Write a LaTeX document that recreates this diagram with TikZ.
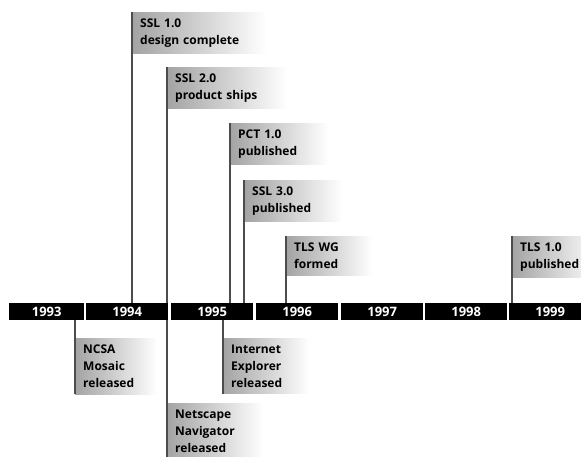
\documentclass[tikz,border=0pt]{standalone}
\usepackage{fontspec}
\setmainfont{Open Sans}
\begin{document}
\begin{tikzpicture}[x=1pt,y=-1pt,
  yearbox/.style={fill=black, text=white, font=\bfseries\fontsize{13}{14}\selectfont,
    minimum height=17pt, inner sep=0pt, anchor=north west},
  event/.style={anchor=north west, align=left, left color=black!36, right color=white,
    font=\bfseries\fontsize{12}{17}\selectfont, inner xsep=8pt, inner ysep=6.5pt,
    text width=#1},
  event/.default=95pt,
  stem/.style={draw=black!70, line width=1.4pt}]
\useasboundingbox (0,0) rectangle (581,457);

% timeline bar
\node[yearbox, minimum width=75pt] (y1993) at (9,303) {1993};
\node[yearbox, minimum width=82pt] (y1994) at (86,303) {1994};
\node[yearbox, minimum width=82pt] (y1995) at (171,303) {1995};
\node[yearbox, minimum width=82pt] (y1996) at (256,303) {1996};
\node[yearbox, minimum width=82pt] (y1997) at (341,303) {1997};
\node[yearbox, minimum width=82pt] (y1998) at (425,303) {1998};
\node[yearbox, minimum width=82pt] (y1999) at (509,303) {1999};

% events above
\node[event=118pt] (ssl1) at (132,12) {SSL 1.0\\design complete};
\node[event=104pt] (ssl2) at (167,67) {SSL 2.0\\product ships};
\node[event=82pt] (pct) at (230,123) {PCT 1.0\\published};
\node[event=82pt] (ssl3) at (244,180) {SSL 3.0\\published};
\node[event=70pt] (tlswg) at (286,236) {TLS WG\\formed};
\node[event=70pt] (tls1) at (512,236) {TLS 1.0\\published};

% events below
\node[event=66pt] (ncsa) at (75,338) {NCSA\\Mosaic\\released};
\node[event=70pt] (ie) at (223,338) {Internet\\Explorer\\released};
\node[event=80pt] (ns) at (167,403) {Netscape\\Navigator\\released};

% stems
\draw[stem] (ssl1.north west) -- (ssl1.north west |- y1994.north);
\draw[stem] (ssl2.north west) -- (ssl2.north west |- y1994.north);
\draw[stem] (pct.north west) -- (pct.north west |- y1995.north);
\draw[stem] (ssl3.north west) -- (ssl3.north west |- y1995.north);
\draw[stem] (tlswg.north west) -- (tlswg.north west |- y1996.north);
\draw[stem] (tls1.north west) -- (tls1.north west |- y1999.north);
\draw[stem] (ncsa.south west |- y1993.south) -- (ncsa.south west);
\draw[stem] (ie.south west |- y1995.south) -- (ie.south west);
\draw[stem] (ns.south west |- y1994.south) -- (ns.south west);
\end{tikzpicture}
\end{document}
